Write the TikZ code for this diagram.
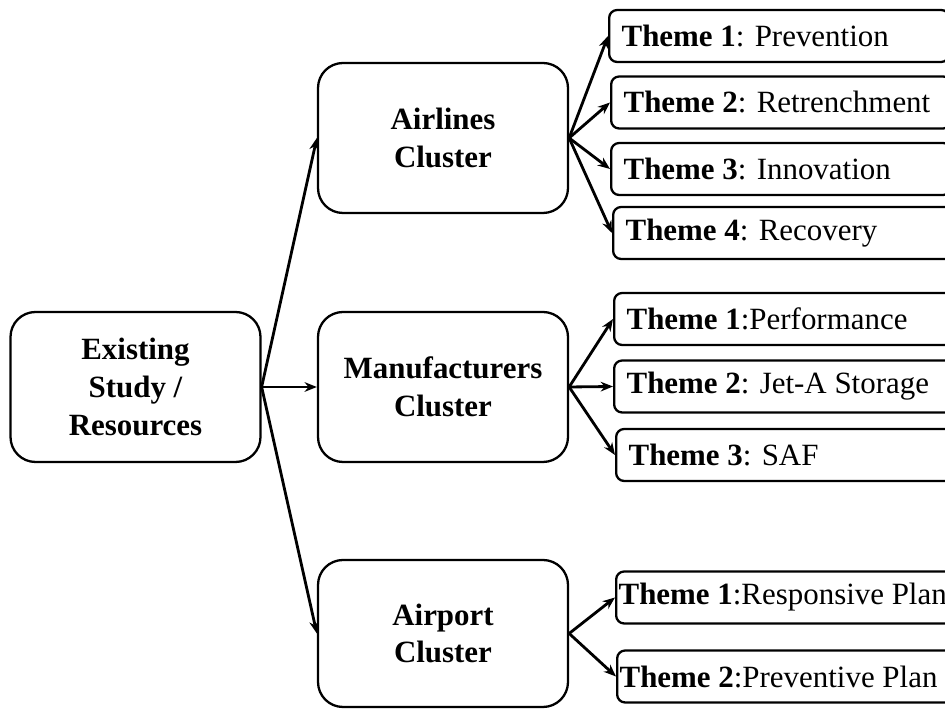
\documentclass[tikz,border=0pt]{standalone}
\usepackage{fontspec}
\setmainfont{Liberation Serif}
\usetikzlibrary{arrows.meta,positioning}

\begin{document}
\begin{tikzpicture}[
  cluster/.style={draw,line width=1.3pt,rounded corners=0.5cm,minimum width=5cm,minimum height=3cm,align=center,font=\fontsize{17.6}{21.5}\selectfont\bfseries},
  theme/.style={draw,line width=1.3pt,rounded corners=0.16cm,anchor=west,minimum height=1.04cm,text width=6.3cm,inner xsep=0.25cm,align=flush left,font=\fontsize{17.6}{21.5}\selectfont},
  wide/.style={text width=7.6cm,inner xsep=0.05cm},
  link/.style={-{Stealth[length=7pt,width=5.5pt]},line width=1.6pt}]
  \clip (0,0) rectangle (18.9,14.18);

  % sources and clusters
  \node[cluster] (exist) at (2.71,6.44) {Existing\\Study /\\Resources};
  \node[cluster] (airline) at (8.86,11.42) {Airlines\\Cluster};
  \node[cluster] (manuf) at (8.86,6.44) {Manufacturers\\Cluster};
  \node[cluster,minimum height=2.94cm] (airport) at (8.86,1.51) {Airport\\Cluster};

  \draw[link] (exist.east) -- (airline.west);
  \draw[link] (exist.east) -- (manuf.west);
  \draw[link] (exist.east) -- (airport.west);

  % airline themes
  \node[theme] (a1) at (12.16,13.46) {\textbf{Theme 1}: Prevention};
  \node[theme] (a2) at (12.20,12.13) {\textbf{Theme 2}: Retrenchment};
  \node[theme] (a3) at (12.20,10.80) {\textbf{Theme 3}: Innovation};
  \node[theme] (a4) at (12.24,9.52) {\textbf{Theme 4}: Recovery};
  \foreach \t in {a1,a2,a3,a4}
    \draw[link] (airline.east) -- (\t.west);

  % manufacturer themes
  \node[theme] (m1) at (12.26,7.80) {\textbf{Theme 1}:Performance};
  \node[theme] (m2) at (12.26,6.45) {\textbf{Theme 2}: Jet-A Storage};
  \node[theme] (m3) at (12.30,5.08) {\textbf{Theme 3}: SAF};
  \foreach \t in {m1,m2,m3}
    \draw[link] (manuf.east) -- (\t.west);

  % airport themes
  \node[theme,wide] (p1) at (12.30,2.23) {\textbf{Theme 1}:Responsive Plan};
  \node[theme,wide] (p2) at (12.32,0.65) {\textbf{Theme 2}:Preventive Plan};
  \foreach \t in {p1,p2}
    \draw[link] (airport.east) -- (\t.west);
\end{tikzpicture}
\end{document}
